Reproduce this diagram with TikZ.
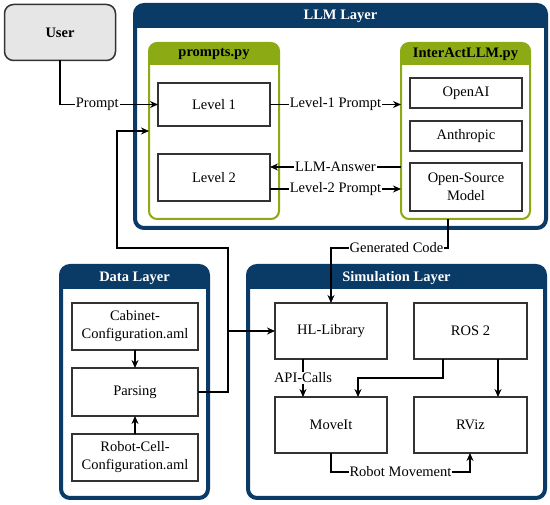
\documentclass[tikz,border=0pt]{standalone}
\usepackage{fontspec}
\setmainfont{Liberation Serif}
\usetikzlibrary{arrows.meta}
\definecolor{lblue}{HTML}{0A3A66}
\definecolor{lgreen}{HTML}{8CAA14}
\definecolor{ugray}{HTML}{E6E6E6}
\definecolor{bline}{HTML}{333333}
\begin{document}
\begin{tikzpicture}[x=1pt,y=-1pt,
  font=\fontsize{14.5}{18}\selectfont,
  box/.style={draw=bline, line width=1.2pt, fill=white, align=center, inner sep=0pt, outer sep=0pt},
  gbox/.style={draw=lgreen, line width=2pt, fill=white, rounded corners=8pt, inner sep=0pt, outer sep=0pt},
  arr/.style={-{Stealth[length=8pt,width=7pt]}, line width=1.1pt, draw=black},
  lab/.style={fill=white, inner sep=1pt, font=\fontsize{14.5}{18}\selectfont},
  ltitle/.style={text=white, font=\fontsize{14.5}{18}\selectfont\bfseries},
  gtitle/.style={text=black, font=\fontsize{14.5}{18}\selectfont\bfseries}]
\useasboundingbox (0,0) rectangle (550,505);

% ---------- User ----------
\node[draw=bline, line width=1.5pt, fill=ugray, rounded corners=9pt, minimum width=111pt, minimum height=56pt, inner sep=0pt, outer sep=0pt, font=\fontsize{14.5}{18}\selectfont\bfseries] (user) at (60,32.5) {User};

% ---------- LLM Layer ----------
\draw[lblue, line width=4pt, rounded corners=9pt, fill=white] (135,5) rectangle (546,228);
\begin{scope}
  \clip (125,-5) rectangle (555,28);
  \fill[lblue, rounded corners=9pt] (135,5) rectangle (546,228);
\end{scope}
\node[ltitle] (llmt) at (340.5,16) {LLM Layer};

% prompts.py
\node[gbox, minimum width=130pt, minimum height=176pt] (prompts) at (214,131) {};
\begin{scope}
  \clip (140,35) rectangle (290,65);
  \fill[lgreen, rounded corners=8pt] (149,43) rectangle (279,219);
\end{scope}
\node[gtitle] (promptst) at (214,54) {prompts.py};

% InterActLLM.py
\node[gbox, minimum width=129pt, minimum height=176pt] (inter) at (465.5,131) {};
\begin{scope}
  \clip (390,35) rectangle (540,65);
  \fill[lgreen, rounded corners=8pt] (401,43) rectangle (530,219);
\end{scope}
\node[gtitle] (intert) at (465.5,54) {InterActLLM.py};

\node[box, minimum width=112pt, minimum height=43pt] (level1) at (214,104.5) {Level 1};
\node[box, minimum width=112pt, minimum height=47pt] (level2) at (214,177.5) {Level 2};
\node[box, minimum width=112pt, minimum height=30pt] (openai) at (466,93) {OpenAI};
\node[box, minimum width=112pt, minimum height=30pt] (anthropic) at (466,136) {Anthropic};
\node[box, minimum width=112pt, minimum height=48pt] (osm) at (466,187) {Open-Source\\Model};

% ---------- Data Layer ----------
\draw[lblue, line width=4pt, rounded corners=9pt, fill=white] (61,266) rectangle (208,498);
\begin{scope}
  \clip (50,255) rectangle (220,289);
  \fill[lblue, rounded corners=9pt] (61,266) rectangle (208,498);
\end{scope}
\node[ltitle] (datat) at (134.5,278) {Data Layer};

\node[box, minimum width=126pt, minimum height=47pt] (cabinet) at (135,326.5) {Cabinet-\\Configuration.aml};
\node[box, minimum width=126pt, minimum height=48pt] (parsing) at (135,392) {Parsing};
\node[box, minimum width=126pt, minimum height=47pt] (robot) at (135,457.5) {Robot-Cell-\\Configuration.aml};

% ---------- Simulation Layer ----------
\draw[lblue, line width=4pt, rounded corners=9pt, fill=white] (248,266) rectangle (545,498);
\begin{scope}
  \clip (240,255) rectangle (555,289);
  \fill[lblue, rounded corners=9pt] (248,266) rectangle (545,498);
\end{scope}
\node[ltitle] (simt) at (396.5,278) {Simulation Layer};

\node[box, minimum width=112pt, minimum height=56pt] (hllib) at (331,331) {HL-Library};
\node[box, minimum width=113pt, minimum height=56pt] (ros) at (470.5,331) {ROS 2};
\node[box, minimum width=112pt, minimum height=56pt] (moveit) at (331,425) {MoveIt};
\node[box, minimum width=113pt, minimum height=56pt] (rviz) at (470.5,425) {RViz};

% ---------- helper coordinates ----------
\coordinate (ya) at (0,167);
\coordinate (yb) at (0,189);
\coordinate (gx) at (448,248);
\coordinate (px) at (228,248);
\coordinate (pl) at (117,248);
\coordinate (pt) at (117,131);
\coordinate (ax) at (303,0);
\coordinate (rx) at (443,378);
\coordinate (mx) at (358,0);
\coordinate (r2x) at (498,0);
\coordinate (bx) at (470,472);

% ---------- connectors ----------
\draw[arr] (user.south) |- node[lab, pos=0.69] {Prompt} (level1.west);
\draw[arr] (level1.east) -- node[lab] {Level-1 Prompt} (level1.east -| inter.west);
\draw[arr] (inter.west |- ya) -- node[lab] {LLM-Answer} (level2.east |- ya);
\draw[arr] (level2.east |- yb) -- node[lab] {Level-2 Prompt} (inter.west |- yb);

\draw[arr] (inter.south -| gx) -- (gx) -| node[lab, pos=0.22] {Generated Code} (hllib.north);

\draw[arr] (cabinet.south) -- (parsing.north);
\draw[arr] (robot.north) -- (parsing.south);
\draw[arr] (parsing.east) -- (parsing.east -| px) |- (hllib.west);
\draw[arr] (parsing.east) -- (parsing.east -| px) -- (px) -- (pl) -- (pt) -- (prompts.west |- pt);

\draw[arr] (hllib.south -| ax) -- node[lab] {API-Calls} (moveit.north -| ax);
\draw[arr] (ros.south -| rx) -- (rx) -| (moveit.north -| mx);
\draw[arr] (ros.south -| r2x) -- (rviz.north -| r2x);
\draw[arr] (moveit.south) -- (moveit.south |- bx) -- node[lab] {Robot Movement} (bx) -- (rviz.south -| bx);
\end{tikzpicture}
\end{document}
